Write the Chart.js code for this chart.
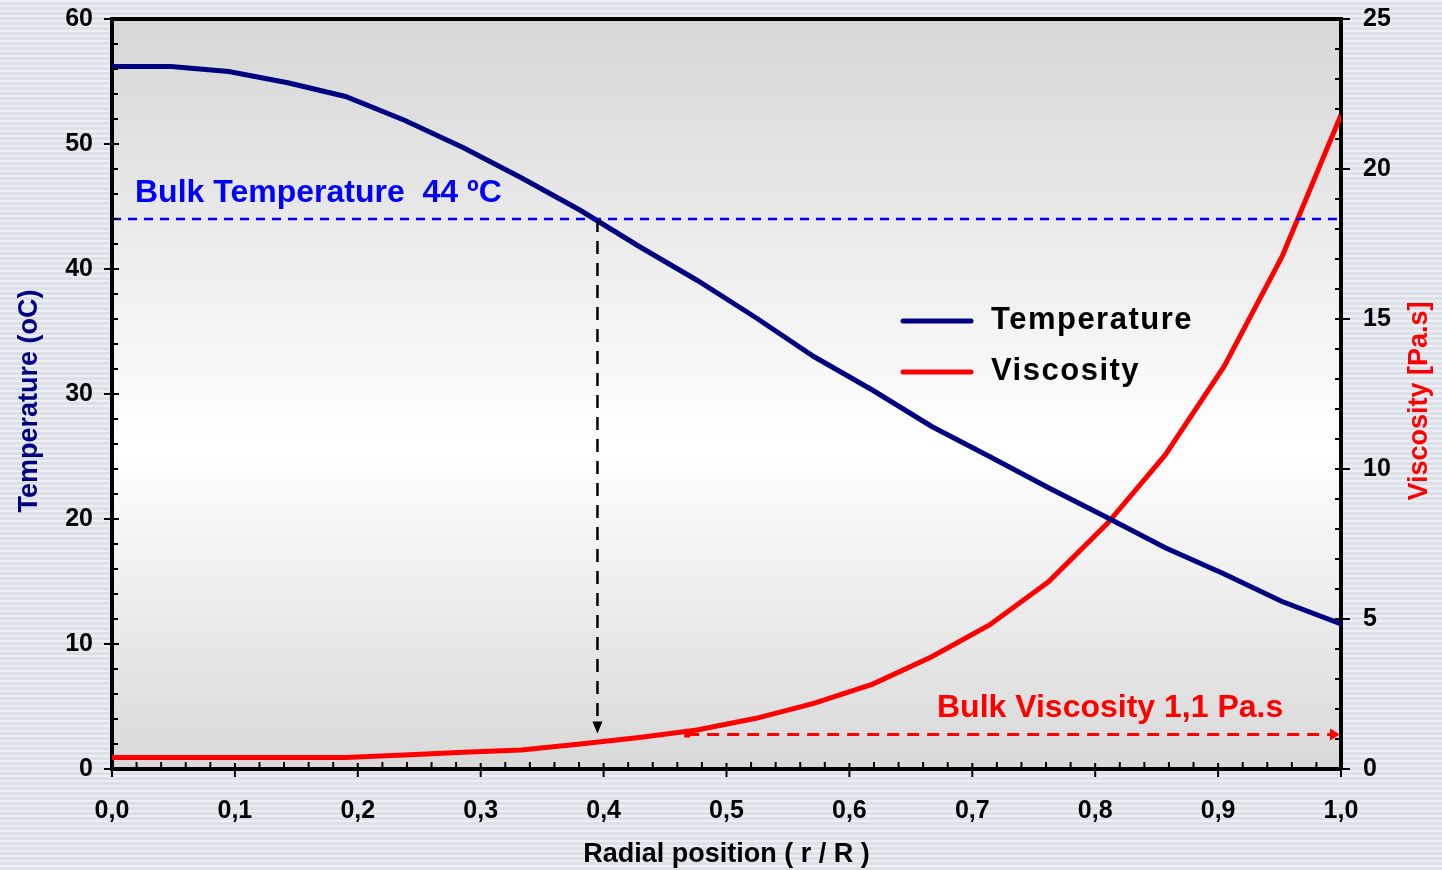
<!DOCTYPE html>
<html>
<head>
<meta charset="utf-8">
<title>Radial profile</title>
<script src="https://cdn.jsdelivr.net/npm/chart.js@4.4.0/dist/chart.umd.min.js"></script>
<style>
  html, body { margin: 0; padding: 0; }
  body {
    width: 1442px; height: 870px; overflow: hidden;
    background-color: #dce1e9;
    background-image: repeating-linear-gradient(to bottom,
      rgba(255,255,255,0.45) 0px, rgba(255,255,255,0.45) 2px,
      rgba(255,255,255,0) 2px, rgba(255,255,255,0) 5px);
  }
  #wrap { position: relative; width: 1442px; height: 870px; }
  canvas { display: block; }
</style>
</head>
<body>
<div id="wrap"><canvas id="profileChart" width="1442" height="870"></canvas></div>
<script>
// values
const radialPosition = [0, 0.048, 0.095, 0.143, 0.19, 0.238, 0.286, 0.333, 0.381, 0.429, 0.476,
                        0.524, 0.571, 0.619, 0.667, 0.714, 0.762, 0.81, 0.857, 0.905, 0.952, 1.0];
const temperature = [56.2, 56.2, 55.8, 54.9, 53.8, 51.9, 49.7, 47.3, 44.7, 41.8, 39.1,
                     36.1, 33.0, 30.3, 27.4, 25.0, 22.5, 20.1, 17.7, 15.6, 13.4, 11.6];
const viscosity = [0.38, 0.38, 0.38, 0.38, 0.38, 0.47, 0.56, 0.63, 0.83, 1.05, 1.3,
                   1.69, 2.19, 2.83, 3.74, 4.8, 6.24, 8.19, 10.47, 13.43, 17.08, 21.8];

const bulkTemperature = 44;
const bulkPosition = 0.395;
const bulkViscosity = 1.15;
const bulkViscosityFrom = 0.468;

const temperatureTicks = [0, 10, 20, 30, 40, 50, 60];
const viscosityTicks = [0, 5, 10, 15, 20, 25];

const FONT = "'Liberation Sans', Arial, sans-serif";
Chart.defaults.font.family = FONT;

const isMajorX = v => Math.abs(v * 10 - Math.round(v * 10)) < 1e-6;

const plotBackground = {
    id: 'plotBackground',
    beforeDraw(chart) {
        const { ctx, chartArea: a } = chart;
        const g = ctx.createLinearGradient(0, a.top, 0, a.bottom);
        g.addColorStop(0, '#d6d6d6');
        g.addColorStop(0.57, '#ffffff');
        g.addColorStop(1, '#d8d8d8');
        ctx.save();
        ctx.fillStyle = g;
        ctx.fillRect(a.left, a.top, a.right - a.left, a.bottom - a.top);
        ctx.restore();
    }
};

// major ticks cross the axis, minor ticks point inwards
const tickMarks = {
    id: 'tickMarks',
    afterDraw(chart) {
        const { ctx, chartArea: a, scales } = chart;
        ctx.save();
        ctx.strokeStyle = '#000';
        ctx.lineWidth = 2;
        ctx.beginPath();
        scales.x.ticks.forEach(t => {
            const px = scales.x.getPixelForValue(t.value);
            if (t.label !== '') { ctx.moveTo(px, a.bottom - 6); ctx.lineTo(px, a.bottom + 8); }
            else { ctx.moveTo(px, a.bottom - 7); ctx.lineTo(px, a.bottom); }
        });
        scales.yT.ticks.forEach(t => {
            const py = scales.yT.getPixelForValue(t.value);
            if (t.label !== '') { ctx.moveTo(a.left - 8, py); ctx.lineTo(a.left + 7, py); }
            else { ctx.moveTo(a.left, py); ctx.lineTo(a.left + 6, py); }
        });
        scales.yV.ticks.forEach(t => {
            const py = scales.yV.getPixelForValue(t.value);
            if (t.label !== '') { ctx.moveTo(a.right - 6, py); ctx.lineTo(a.right + 9, py); }
            else { ctx.moveTo(a.right - 6, py); ctx.lineTo(a.right, py); }
        });
        ctx.stroke();
        // top edge of the frame
        ctx.lineWidth = 4;
        ctx.beginPath();
        ctx.moveTo(a.left - 2, a.top);
        ctx.lineTo(a.right + 2, a.top);
        ctx.stroke();
        ctx.restore();
    }
};

const bulkMarks = {
    id: 'bulkMarks',
    afterDatasetsDraw(chart) {
        const { ctx, chartArea: a, scales: { x, yT, yV } } = chart;
        const yTemp = yT.getPixelForValue(bulkTemperature);
        const xBulk = x.getPixelForValue(bulkPosition);
        const yVisc = yV.getPixelForValue(bulkViscosity);
        ctx.save();

        // bulk temperature level
        ctx.strokeStyle = '#0000ff';
        ctx.lineWidth = 2.5;
        ctx.setLineDash([9, 7]);
        ctx.beginPath();
        ctx.moveTo(a.left, yTemp);
        ctx.lineTo(a.right, yTemp);
        ctx.stroke();

        // drop to the viscosity curve
        ctx.strokeStyle = '#000';
        ctx.setLineDash([13, 9]);
        ctx.beginPath();
        ctx.moveTo(xBulk, yTemp);
        ctx.lineTo(xBulk, yVisc - 12);
        ctx.stroke();
        ctx.setLineDash([]);
        ctx.fillStyle = '#000';
        ctx.beginPath();
        ctx.moveTo(xBulk - 5, yVisc - 13);
        ctx.lineTo(xBulk + 5, yVisc - 13);
        ctx.lineTo(xBulk, yVisc - 1);
        ctx.closePath();
        ctx.fill();

        // bulk viscosity level
        const xFrom = x.getPixelForValue(bulkViscosityFrom);
        ctx.strokeStyle = '#ff0000';
        ctx.lineWidth = 3;
        ctx.setLineDash([12, 8]);
        ctx.beginPath();
        ctx.moveTo(xFrom, yVisc);
        ctx.lineTo(a.right - 10, yVisc);
        ctx.stroke();
        ctx.setLineDash([]);
        ctx.fillStyle = '#ff0000';
        ctx.fillRect(xFrom - 3, yVisc - 3, 6, 6);
        ctx.beginPath();
        ctx.moveTo(a.right - 11, yVisc - 6);
        ctx.lineTo(a.right - 11, yVisc + 6);
        ctx.lineTo(a.right - 1, yVisc);
        ctx.closePath();
        ctx.fill();

        // labels
        ctx.font = 'bold 32px ' + FONT;
        ctx.textBaseline = 'alphabetic';
        ctx.fillStyle = '#0000ff';
        ctx.textAlign = 'left';
        ctx.fillText('Bulk Temperature  44 ºC', a.left + 23, yTemp - 17);
        ctx.fillStyle = '#ff0000';
        ctx.textAlign = 'right';
        ctx.fillText('Bulk Viscosity 1,1 Pa.s', x.getPixelForValue(0.953), yVisc - 18);
        ctx.restore();
    }
};

const innerLegend = {
    id: 'innerLegend',
    afterDraw(chart) {
        const { ctx, chartArea: a } = chart;
        const x0 = a.left + 791;
        const y0 = a.top + 302;
        ctx.save();
        ctx.font = 'bold 31px ' + FONT;
        ctx.letterSpacing = '1.5px';
        ctx.textBaseline = 'middle';
        ctx.textAlign = 'left';
        chart.data.datasets.forEach((ds, i) => {
            const y = y0 + i * 51;
            ctx.strokeStyle = ds.borderColor;
            ctx.lineWidth = 5;
            ctx.lineCap = 'round';
            ctx.beginPath();
            ctx.moveTo(x0, y);
            ctx.lineTo(x0 + 68, y);
            ctx.stroke();
            ctx.fillStyle = '#000';
            ctx.fillText(ds.label, x0 + 88, y - 1);
        });
        ctx.restore();
    }
};

// both vertical titles read bottom to top, sitting a little below centre
const sideTitles = {
    id: 'sideTitles',
    afterDraw(chart) {
        const { ctx, chartArea: a } = chart;
        const cy = (a.top + a.bottom) / 2 + 7;
        ctx.save();
        ctx.font = 'bold 27px ' + FONT;
        ctx.textAlign = 'center';
        ctx.textBaseline = 'middle';
        [['Temperature (oC)', '#000080', 30], ['Viscosity [Pa.s]', '#ff0000', 1420]].forEach(([text, color, cx]) => {
            ctx.save();
            ctx.translate(cx, cy);
            ctx.rotate(-Math.PI / 2);
            ctx.fillStyle = color;
            ctx.fillText(text, 0, 0);
            ctx.restore();
        });
        ctx.restore();
    }
};

const tickFont = { size: 25, weight: 'bold' };
const fixY = w => s => { s.width = w; s.paddingTop = 0; s.paddingBottom = 0; };

new Chart(document.getElementById('profileChart'), {
    type: 'line',
    data: {
        datasets: [
            {
                label: 'Temperature',
                data: radialPosition.map((r, i) => ({ x: r, y: temperature[i] })),
                borderColor: '#000080',
                borderWidth: 5,
                pointRadius: 0,
                tension: 0,
                yAxisID: 'yT'
            },
            {
                label: 'Viscosity',
                data: radialPosition.map((r, i) => ({ x: r, y: viscosity[i] })),
                borderColor: '#ff0000',
                borderWidth: 5,
                pointRadius: 0,
                tension: 0,
                yAxisID: 'yV'
            }
        ]
    },
    options: {
        responsive: false,
        animation: false,
        layout: { padding: { top: 19, left: 0, right: 0, bottom: 0 } },
        plugins: { legend: { display: false }, tooltip: { enabled: false } },
        scales: {
            x: {
                type: 'linear',
                position: 'bottom',
                min: 0, max: 1,
                afterFit: s => { s.height = 101; s.paddingLeft = 0; s.paddingRight = 0; },
                grid: { display: false, drawTicks: false },
                border: { display: true, color: '#000', width: 4 },
                ticks: {
                    stepSize: 0.02,
                    autoSkip: false,
                    maxRotation: 0,
                    padding: 27,
                    color: '#000',
                    font: tickFont,
                    callback: v => isMajorX(v) ? (Math.round(v * 10) / 10).toFixed(1).replace('.', ',') : ''
                },
                title: {
                    display: true,
                    text: 'Radial position ( r / R )',
                    color: '#000',
                    font: { size: 27, weight: 'bold' },
                    padding: { top: 0, bottom: -1 }
                }
            },
            yT: {
                type: 'linear',
                position: 'left',
                min: 0, max: 60,
                afterFit: fixY(112),
                grid: { display: false, drawTicks: false },
                border: { display: true, color: '#000', width: 4 },
                ticks: {
                    stepSize: 2,
                    autoSkip: false,
                    padding: 19,
                    color: '#000',
                    font: tickFont,
                    callback: v => temperatureTicks.includes(v) ? String(v) : ''
                }
            },
            yV: {
                type: 'linear',
                position: 'right',
                min: 0, max: 25,
                afterFit: fixY(101),
                grid: { display: false, drawTicks: false },
                border: { display: true, color: '#000', width: 4 },
                ticks: {
                    stepSize: 1,
                    autoSkip: false,
                    padding: 22,
                    color: '#000',
                    font: tickFont,
                    callback: v => viscosityTicks.includes(v) ? String(v) : ''
                }
            }
        }
    },
    plugins: [plotBackground, bulkMarks, tickMarks, innerLegend, sideTitles]
});
</script>
</body>
</html>
